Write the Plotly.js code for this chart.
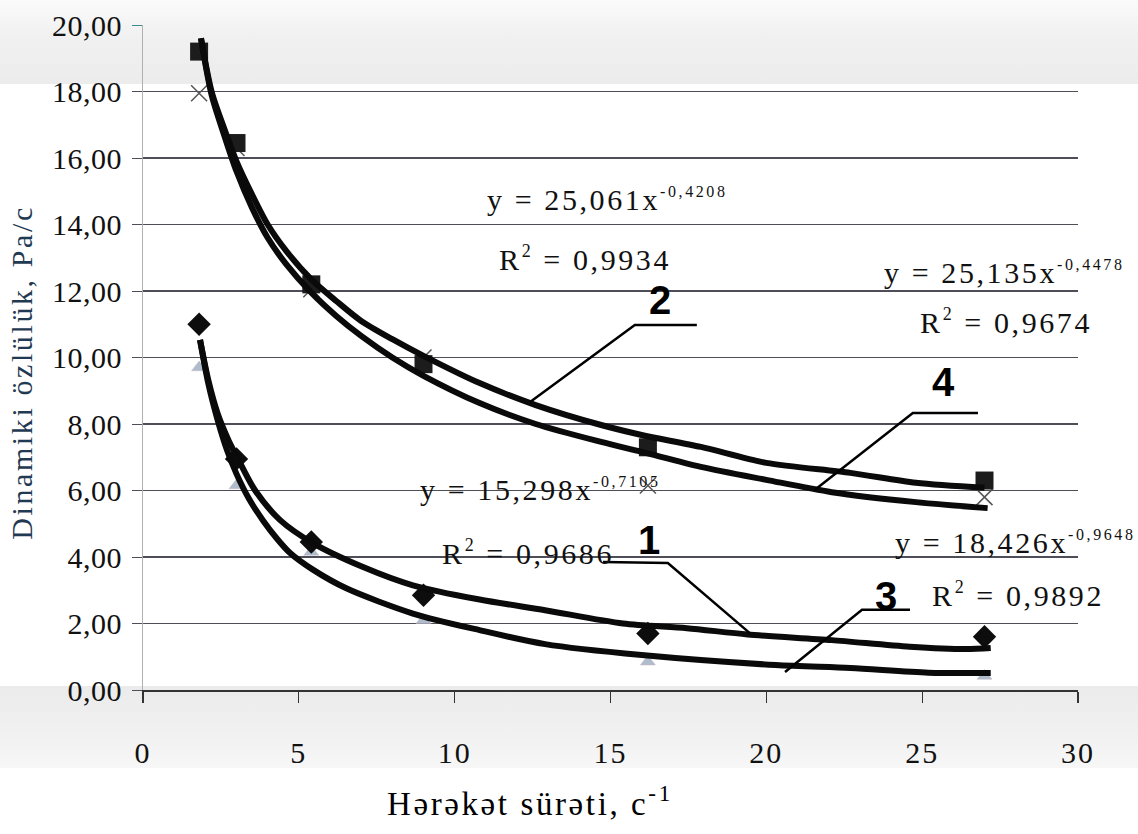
<!DOCTYPE html>
<html>
<head>
<meta charset="utf-8">
<script src="https://cdn.plot.ly/plotly-3.0.1.min.js"></script>
<style>
  html, body { margin:0; padding:0; background:#ffffff; }
  #wrap { position:relative; width:1138px; height:834px; overflow:hidden; }
  #bandTop { position:absolute; left:0; top:0; width:1138px; height:84px;
    background:linear-gradient(to bottom, #fbfbfb 0%, #f1f1f1 40%, #ececec 100%); }
  #bandBot { position:absolute; left:0; top:686px; width:1138px; height:82px;
    background:linear-gradient(to bottom, #ebebeb 0%, #f1f1f1 60%, #f7f7f7 100%); }
  #chart { position:absolute; left:0; top:0; width:1138px; height:834px; }
  /* the scanned lettering is widely spaced; applied globally so Plotly measures it too */
  text { letter-spacing: 2.6px; }
  #chart .ytick text, #chart .y2tick text { letter-spacing: 0.5px; }
  #chart .xtick text { letter-spacing: 2px; }
</style>
</head>
<body>
<div id="wrap">
  <div id="bandTop"></div>
  <div id="bandBot"></div>
  <div id="chart"></div>
</div>
<script>
// ---- data ----
const shearRate = [1.8, 3.0, 5.4, 9.0, 16.2, 27.0];
const series1 = [11.0, 6.95, 4.45, 2.85, 1.70, 1.60];   // diamonds
const series2 = [19.2, 16.45, 12.2, 9.8, 7.3, 6.3];     // squares
const series3 = [9.7, 6.15, 4.15, 2.1, 0.85, 0.42];     // triangles
const series4 = [17.95, 16.3, 12.05, 10.0, 6.15, 5.8];  // crosses

// hand-drawn trend curves
const curve2X = [1.86, 2.2, 2.6, 3.0, 3.5, 4.0, 4.6, 5.4, 6.2, 7.0, 8.0, 9.0, 10.8, 12.6, 14.7, 16.0, 17.9, 20.0, 22.7, 24.8, 27.0];
const curve2Y = [19.6, 18.0, 16.9, 15.9, 14.9, 14.0, 13.2, 12.35, 11.7, 11.1, 10.55, 10.05, 9.23, 8.57, 7.97, 7.67, 7.31, 6.83, 6.53, 6.23, 6.08];
const curve4X = [1.86, 2.2, 2.6, 3.0, 3.5, 4.0, 4.6, 5.4, 6.2, 7.0, 8.0, 9.0, 10.8, 12.6, 14.7, 16.0, 17.9, 20.0, 22.1, 24.8, 27.1];
const curve4Y = [19.6, 17.9, 16.7, 15.6, 14.5, 13.6, 12.8, 11.95, 11.25, 10.65, 10.0, 9.45, 8.63, 8.0, 7.46, 7.16, 6.71, 6.32, 5.95, 5.65, 5.47];
const curve1X = [1.83, 2.1, 2.4, 2.75, 3.05, 3.6, 4.4, 5.45, 7.06, 8.66, 10.8, 12.9, 15.4, 17.45, 19.4, 22.1, 24.6, 26.4, 27.2];
const curve1Y = [10.53, 9.3, 8.3, 7.5, 6.95, 6.0, 5.11, 4.42, 3.7, 3.15, 2.72, 2.4, 2.0, 1.86, 1.67, 1.5, 1.3, 1.23, 1.26];
const curve3X = [1.83, 2.1, 2.4, 2.7, 3.0, 3.4, 3.85, 4.3, 4.72, 5.45, 6.54, 8.66, 10.8, 12.9, 16.0, 20.3, 22.7, 25.2, 27.2];
const curve3Y = [10.53, 9.2, 8.1, 7.2, 6.5, 5.75, 5.1, 4.55, 4.12, 3.62, 3.05, 2.3, 1.8, 1.38, 1.05, 0.75, 0.66, 0.52, 0.51];

// axis ticks
const xTickVals = [0, 5, 10, 15, 20, 25, 30];
const xTickLabels = ['0', '5', '10', '15', '20', '25', '30'];
const yTickVals = [0, 2, 4, 6, 8, 10, 12, 14, 16, 18];
const yTickLabels = ['0,00', '2,00', '4,00', '6,00', '8,00', '10,00', '12,00', '14,00', '16,00', '18,00'];
const yTopVal = [20];
const yTopLabel = ['20,00'];

// equations
const equations = [
  {main: 'y = 25,061x', exp: '-0,4208', r2: '0,9934'},
  {main: 'y = 25,135x', exp: '-0,4478', r2: '0,9674'},
  {main: 'y = 15,298x', exp: '-0,7105', r2: '0,9686'},
  {main: 'y = 18,426x', exp: '-0,9648', r2: '0,9892'}
];
const curveNumbers = ['2', '4', '1', '3'];

// ---- styling ----
const SERIF = 'Liberation Serif, Times New Roman, serif';
const supSpan = (t, size) => '<sup><span style="font-size:' + size + 'px">' + t + '</span></sup>';

const traces = [];
function markers(y, sym, size, color, lineColor, lineW) {
  traces.push({x: shearRate, y: y, type: 'scatter', mode: 'markers', hoverinfo: 'skip',
    marker: {symbol: sym, size: size, color: color, line: {color: lineColor, width: lineW}}});
}
markers(series3, 'triangle-up', 13, '#aebccb', '#c9b6c4', 0.5);
markers(series4, 'x-thin-open', 16, '#555', '#555', 1.5);
markers(series2, 'square', 18, '#1c1c1c', '#1c1c1c', 0);
markers(series1, 'diamond', 18, '#0d0d0d', '#0d0d0d', 0);

function curve(x, y) {
  traces.push({x: x, y: y, type: 'scatter', mode: 'lines', hoverinfo: 'skip',
    line: {color: '#0a0a0a', width: 6, shape: 'spline', smoothing: 0.8}});
}
curve(curve2X, curve2Y);
curve(curve4X, curve4Y);
curve(curve1X, curve1Y);
curve(curve3X, curve3Y);

// second y axis only for the top "20,00" tick (no grid line there)
traces.push({x: [0], y: [20], type: 'scatter', mode: 'markers', yaxis: 'y2',
  marker: {opacity: 0}, hoverinfo: 'skip'});

const eqFont = {family: SERIF, size: 30, color: '#111'};
const eqPos = [
  {ex: 10.97, ey: 14.74, rx: 11.36, ry: 12.99},
  {ex: 23.71, ey: 12.57, rx: 24.86, ry: 11.07},
  {ex: 8.82, ey: 6.02, rx: 9.53, ry: 4.15},
  {ex: 24.06, ey: 4.45, rx: 25.25, ry: 2.86}
];
const annotations = [];
equations.forEach((e, i) => {
  const p = eqPos[i];
  annotations.push({x: p.ex, y: p.ey, xref: 'x', yref: 'y', xanchor: 'left', yanchor: 'middle',
    showarrow: false, font: eqFont, text: e.main + supSpan(e.exp, 16)});
  annotations.push({x: p.rx, y: p.ry, xref: 'x', yref: 'y', xanchor: 'left', yanchor: 'middle',
    showarrow: false, font: eqFont, text: 'R' + supSpan('2', 18) + ' = ' + e.r2});
});
const numPos = [[16.65, 11.73], [25.73, 9.26], [16.27, 4.51], [23.9, 2.83]];
curveNumbers.forEach((n, i) => {
  annotations.push({x: numPos[i][0], y: numPos[i][1], xref: 'x', yref: 'y', showarrow: false,
    font: {family: 'Liberation Sans Narrow, Liberation Sans, sans-serif', size: 40, color: '#000', weight: 'bold'},
    text: n});
});
// axis titles
annotations.push({x: -0.1294, y: 0.477, xref: 'paper', yref: 'paper', xanchor: 'center', yanchor: 'middle',
  showarrow: false, textangle: -90,
  font: {family: SERIF, size: 30, color: '#1f3a52'}, text: 'Dinamiki özlülük, Pa/c'});
annotations.push({x: 0.414, y: -0.1669, xref: 'paper', yref: 'paper', xanchor: 'center', yanchor: 'middle',
  showarrow: false,
  font: {family: SERIF, size: 33, color: '#000'}, text: 'Hərəkət sürəti, c<sup>-1</sup>'});

const leader = (pts) => ({type: 'path', xref: 'x', yref: 'y', line: {color: '#000', width: 2.5},
  path: 'M ' + pts.map(p => p[0] + ',' + p[1]).join(' L ')});
const shapes = [
  leader([[12.42, 8.66], [15.78, 10.98], [17.77, 10.98]]),
  leader([[21.56, 6.02], [24.70, 8.33], [26.79, 8.33]]),
  leader([[14.76, 3.85], [16.84, 3.82], [19.47, 1.71]]),
  leader([[24.61, 2.41], [23.07, 2.41], [20.6, 0.54]])
];

const tickFont = {family: SERIF, size: 30, color: '#111'};
const layout = {
  width: 1138, height: 834,
  font: {family: SERIF, size: 20, color: '#111'},
  margin: {l: 143, r: 60, t: 25, b: 144},
  paper_bgcolor: 'rgba(0,0,0,0)', plot_bgcolor: 'rgba(0,0,0,0)',
  showlegend: false,
  xaxis: {range: [0, 30], tickvals: xTickVals, ticktext: xTickLabels,
    showgrid: false, zeroline: false, showline: true, linecolor: '#333', linewidth: 1.5,
    ticks: 'outside', ticklen: 11, tickcolor: '#333', tickwidth: 1.2,
    tickfont: tickFont, ticklabelstandoff: 24},
  yaxis: {range: [0, 20], tickvals: yTickVals, ticktext: yTickLabels,
    showgrid: true, gridcolor: '#4e4e58', gridwidth: 1.3, zeroline: false,
    showline: true, linecolor: '#b0b0b0', linewidth: 1,
    ticks: 'outside', ticklen: 10, tickcolor: '#4e4e58', tickfont: tickFont, ticklabelstandoff: 4},
  yaxis2: {range: [0, 20], overlaying: 'y', side: 'left', anchor: 'x', tickvals: yTopVal,
    ticktext: yTopLabel, showgrid: false, zeroline: false, showline: false,
    ticks: 'outside', ticklen: 10, tickcolor: '#3a8c8c', tickfont: tickFont, ticklabelstandoff: 4},
  annotations: annotations,
  shapes: shapes
};
Plotly.newPlot('chart', traces, layout, {staticPlot: true, displayModeBar: false});
</script>
</body>
</html>
